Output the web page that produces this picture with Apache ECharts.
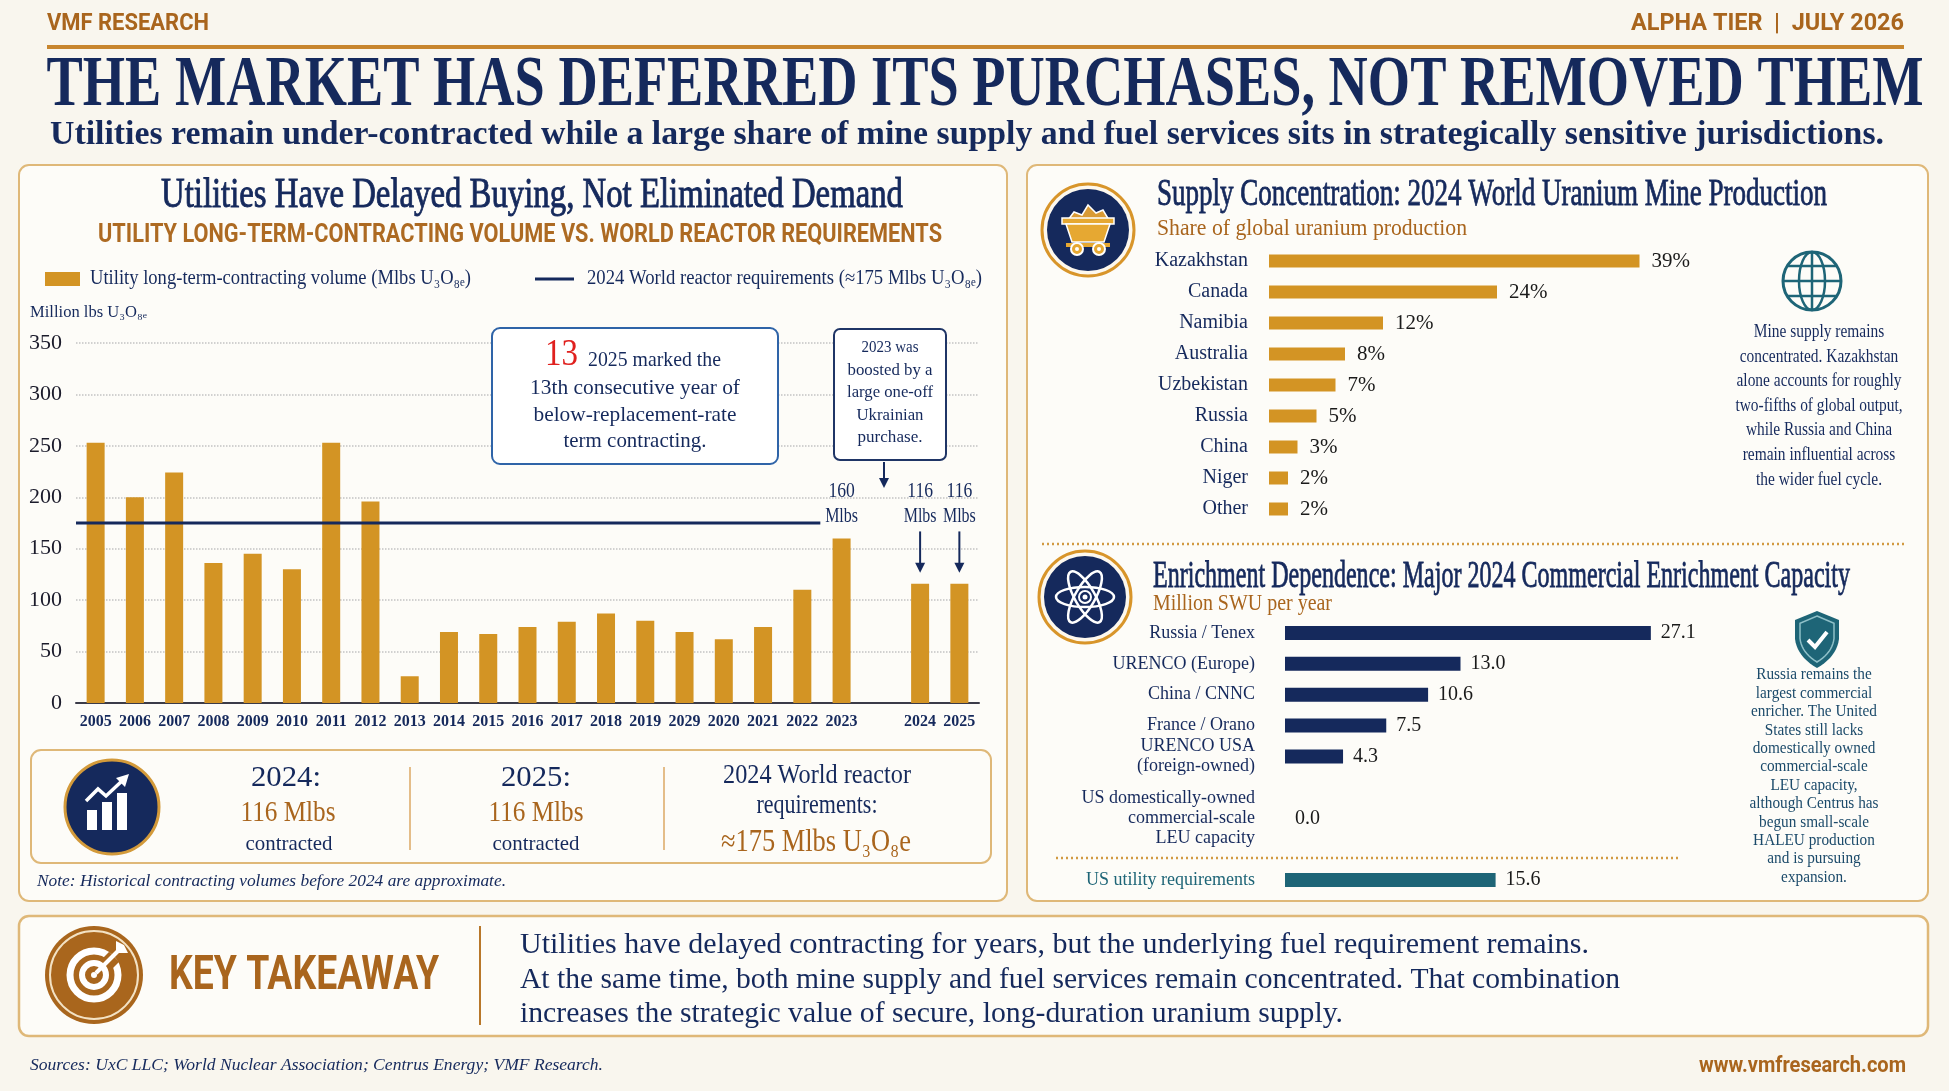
<!DOCTYPE html>
<html><head><meta charset="utf-8">
<script src="https://cdn.jsdelivr.net/npm/echarts@6/dist/echarts.min.js"></script>
<style>html,body{margin:0;padding:0;background:#f9f6ee;}#c{width:1949px;height:1091px;}</style>
</head><body><div id="c"></div><script>
// ---------- DATA ----------
const years = ['2005','2006','2007','2008','2009','2010','2011','2012','2013','2014','2015','2016','2017','2018','2019','2029','2020','2021','2022','2023','','2024','2025'];
const contractVolume = [253,200,224,136,145,130,253,196,26,69,67,74,79,87,80,69,62,74,110,160,null,116,116];
const reactorRequirement = 175;
const yAxisMin = 0, yAxisMax = 350, yAxisStep = 50;
const calloutYears = ['2023','2024','2025'];
const calloutValues = ['160','116','116'];

const countries = ['Kazakhstan','Canada','Namibia','Australia','Uzbekistan','Russia','China','Niger','Other'];
const mineShare = [39,24,12,8,7,5,3,2,2];

const enrichers = ['Russia / Tenex','URENCO (Europe)','China / CNNC','France / Orano','URENCO USA\n(foreign-owned)','','US domestically-owned\ncommercial-scale\nLEU capacity','','US utility requirements'];
const enrichCapacity = [27.1,13.0,10.6,7.5,4.3,null,0.0,null,15.6];
const requirementRow = 'US utility requirements';

// ---------- STYLE ----------
const NAVY = '#15295c', GOLD = '#d39424', ORANGE = '#a9651d', TEAL = '#1e6577', BORDER = '#dfb878', PANEL = '#fdfcf8';
const SERIF = '"Liberation Serif","Times New Roman",serif';
const SANS = 'Roboto,"Liberation Sans",sans-serif';

const mctx = document.createElement('canvas').getContext('2d');
function T(text, x, y, o) {
  o = Object.assign({size:16, color:NAVY, align:'left', weight:'normal', style:'normal', family:SERIF}, o || {});
  const font = `${o.style} ${o.weight} ${o.size}px ${o.family}`;
  let sx = o.sx || 1;
  if (o.w) { mctx.font = font; sx = o.w / mctx.measureText(text).width; }
  const st = {text:text, fill:o.color, font:font, textAlign:o.align, textVerticalAlign:'middle', align:o.align, verticalAlign:'middle'};
  if (o.stroke) { st.stroke = o.color; st.lineWidth = o.stroke; }
  return {type:'text', x:x, y:y, scaleX:sx, scaleY:1, z:o.z || 100, silent:true, style:st};
}
function scaleFor(text, size, w, weight, family) {
  mctx.font = `normal ${weight||'normal'} ${size}px ${family||SERIF}`;
  return w / mctx.measureText(text).width;
}
function rect(x,y,w,h,o){ o=o||{}; return {type:'rect', shape:{x:x,y:y,width:w,height:h,r:o.r||0}, style:{fill:o.fill||'none', stroke:o.stroke||null, lineWidth:o.lw||0}, z:o.z!=null?o.z:100, silent:true}; }
function line(x1,y1,x2,y2,color,lw,dash,z){ return {type:'line', shape:{x1:x1,y1:y1,x2:x2,y2:y2}, style:{stroke:color, lineWidth:lw, lineDash:dash||null}, z:z||100, silent:true}; }
function circ(cx,cy,r,fill,stroke,lw,z){ return {type:'circle', shape:{cx:cx,cy:cy,r:r}, style:{fill:fill||'none', stroke:stroke||null, lineWidth:lw||0}, z:z||100, silent:true}; }
function poly(points, fill, stroke, lw, z){ return {type:'polygon', shape:{points:points}, style:{fill:fill||'none', stroke:stroke||null, lineWidth:lw||0}, z:z||100, silent:true}; }
function arrowDown(x, y1, y2, color, lw){
  return [line(x,y1,x,y2-8,color,lw), poly([[x-5,y2-10],[x+5,y2-10],[x,y2]], color)];
}
function quad(p0, c, p1, n){ const out=[]; for(let i=1;i<=n;i++){ const t=i/n, a=(1-t)*(1-t), b=2*(1-t)*t, d=t*t; out.push([a*p0[0]+b*c[0]+d*p1[0], a*p0[1]+b*c[1]+d*p1[1]]); } return out; }
function shieldPts(cx, t, hw, h){
  const pts = [[cx, t],[cx+hw, t+h*0.16],[cx+hw, t+h*0.49]];
  pts.push(...quad([cx+hw, t+h*0.49],[cx+hw*0.9, t+h*0.8],[cx, t+h], 10));
  pts.push(...quad([cx, t+h],[cx-hw*0.9, t+h*0.8],[cx-hw, t+h*0.49], 10));
  pts.push([cx-hw, t+h*0.16]);
  return pts;
}

// ---------- CHART ----------
const chart = echarts.init(document.getElementById('c'));
const G0 = {left:76, top:343, width:903, height:360};
const option = {
  backgroundColor: '#f9f6ee',
  animation: false,
  grid: [
    G0,
    {left:1269, top:245.5, width:475, height:279},
    {left:1285, top:617.5, width:405, height:278}
  ],
  xAxis: [
    {gridIndex:0, type:'category', data:years, axisLine:{lineStyle:{color:'#3b3b48', width:2}}, axisTick:{show:false},
     axisLabel:{interval:0, margin:11, fontFamily:SERIF, fontSize:16, fontWeight:'bold', color:NAVY}},
    {gridIndex:1, type:'value', min:0, max:50, show:false},
    {gridIndex:2, type:'value', min:0, max:30, show:false}
  ],
  yAxis: [
    {gridIndex:0, type:'value', min:yAxisMin, max:yAxisMax, interval:yAxisStep, axisLine:{show:false}, axisTick:{show:false},
     axisLabel:{margin:14, fontFamily:SERIF, fontSize:22, color:'#1b1b2b'},
     splitLine:{lineStyle:{type:'dotted', color:'#c2c2c2', width:1.5}}},
    {gridIndex:1, type:'category', data:countries, inverse:true, axisLine:{show:false}, axisTick:{show:false},
     axisLabel:{margin:21, fontFamily:SERIF, fontSize:20, color:NAVY}},
    {gridIndex:2, type:'category', inverse:true, axisLine:{show:false}, axisTick:{show:false},
     data: enrichers.map(n => n === requirementRow ? {value:n, textStyle:{color:TEAL}} : n),
     axisLabel:{margin:30, fontFamily:SERIF, fontSize:18, lineHeight:20, color:NAVY}}
  ],
  series: [
    {type:'bar', xAxisIndex:0, yAxisIndex:0, data:contractVolume, barWidth:18, itemStyle:{color:GOLD}},
    {type:'bar', xAxisIndex:1, yAxisIndex:1, data:mineShare, barWidth:13, itemStyle:{color:GOLD},
     label:{show:true, position:'right', distance:12, formatter:p => p.value + '%', fontFamily:SERIF, fontSize:21, color:'#1a1a1a'}},
    {type:'bar', xAxisIndex:2, yAxisIndex:2, barWidth:14,
     data: enrichCapacity.map((v,i) => v == null ? null : {value:v, itemStyle:{color: enrichers[i] === requirementRow ? TEAL : NAVY}}),
     label:{show:true, position:'right', distance:10, formatter:p => p.value == null ? '' : Number(p.value).toFixed(1), fontFamily:SERIF, fontSize:20, color:'#1a1a1a'}}
  ]
};
chart.setOption(option);

// ---------- GRAPHICS ----------
const g = [];
// panels
g.push(rect(19,165,988,736,{r:10, fill:PANEL, stroke:BORDER, lw:2, z:-10}));
g.push(rect(1027,165,901,736,{r:10, fill:PANEL, stroke:BORDER, lw:2, z:-10}));
g.push(rect(19,916,1909,120,{r:10, fill:PANEL, stroke:BORDER, lw:2.5, z:-10}));
g.push(rect(31,750,960,113,{r:10, fill:PANEL, stroke:BORDER, lw:2, z:-5}));

// header
g.push(T('VMF RESEARCH', 47, 24, {family:SANS, weight:'bold', size:23, color:ORANGE, w:162}));
g.push(T('ALPHA TIER  |  JULY 2026', 1904, 24, {family:SANS, weight:'bold', size:23, color:ORANGE, align:'right', w:273}));
g.push(rect(47,45,1857,4,{fill:'#c8862e'}));
g.push(T('THE MARKET HAS DEFERRED ITS PURCHASES, NOT REMOVED THEM', 985, 86, {size:72, weight:'bold', align:'center', w:1877}));
g.push(T('Utilities remain under-contracted while a large share of mine supply and fuel services sits in strategically sensitive jurisdictions.', 967, 135, {size:33, weight:'bold', align:'center', w:1834}));

// left panel headings + legend
g.push(T('Utilities Have Delayed Buying, Not Eliminated Demand', 532, 196, {size:42, align:'center', w:742, stroke:0.9}));
g.push(T('UTILITY LONG-TERM-CONTRACTING VOLUME VS. WORLD REACTOR REQUIREMENTS', 520, 236, {family:SANS, weight:'bold', size:25, color:'#ad6a22', align:'center', w:844}));
g.push(rect(45,272,35,14,{fill:GOLD}));
g.push(T('Utility long-term-contracting volume (Mlbs U\u2083O\u2088\u2091)', 90, 279, {size:20, w:381}));
g.push(line(535,279,574,279,NAVY,3));
g.push(T('2024 World reactor requirements (\u2248175 Mlbs U\u2083O\u2088\u2091)', 587, 279, {size:20, w:395}));
g.push(T('Million lbs U\u2083O\u2088\u2091', 30, 313, {size:17, w:117}));

// requirement line through the library's scales
const px = (cat, val) => chart.convertToPixel({xAxisIndex:0, yAxisIndex:0}, [cat, val]);
const reqY = px('2005', reactorRequirement)[1];
const reqEndX = px('2022', reactorRequirement)[0] + 18;
g.push(line(G0.left, reqY, reqEndX, reqY, NAVY, 3, null, 50));

// callout box 1
g.push(rect(492,328,286,136,{r:8, fill:'#ffffff', stroke:'#2f64a8', lw:2}));
g.push(T('13', 545, 355, {size:38, color:'#e0201e', w:33}));
g.push(T('2025 marked the', 588, 360, {size:22, w:133}));
g.push(T('13th consecutive year of', 635, 388, {size:22, align:'center', w:210}));
g.push(T('below-replacement-rate', 635, 415, {size:22, align:'center', w:203}));
g.push(T('term contracting.', 635, 441, {size:22, align:'center', w:143}));

// callout box 2
g.push(rect(834,329,112,131,{r:6, fill:'#ffffff', stroke:'#1f3566', lw:2}));
[['2023 was',57],['boosted by a',85],['large one-off',86],['Ukrainian',67],['purchase.',65]].forEach((l,i) => {
  g.push(T(l[0], 890, 348 + i*22.5, {size:17, align:'center', w:l[1]}));
});
g.push(...arrowDown(884, 462, 488, NAVY, 2));

// bar callout labels
const topY = px(calloutYears[0], Number(calloutValues[0]))[1];
calloutYears.forEach((yr, i) => {
  const x = px(yr, 0)[0];
  g.push(T(calloutValues[i], x, topY - 47, {size:20, sx:0.88, align:'center'}));
  g.push(T('Mlbs', x, topY - 22, {size:20, sx:0.8, align:'center'}));
  if (i > 0) {
    const barTop = px(yr, Number(calloutValues[i]))[1];
    g.push(...arrowDown(x, topY - 7, barTop - 11, NAVY, 2));
  }
});

// stats box
(function(){
  const cx=112, cy=807;
  g.push(circ(cx,cy,47,NAVY,'#d39a3a',3));
  g.push(rect(cx-25,cy+3,10,20,{fill:'#fff'}));
  g.push(rect(cx-10,cy-5,10,28,{fill:'#fff'}));
  g.push(rect(cx+5,cy-14,10,37,{fill:'#fff'}));
  g.push({type:'polyline', shape:{points:[[cx-26,cy-6],[cx-14,cy-18],[cx-6,cy-11],[cx+11,cy-27]]}, style:{stroke:'#fff', lineWidth:3.5, fill:null}, z:101, silent:true});
  g.push(poly([[cx+17,cy-33],[cx+4,cy-29],[cx+13,cy-20]], '#fff'));
})();
g.push(T('2024:', 286, 778, {size:30, align:'center', w:70}));
g.push(T('116 Mlbs', 288, 813, {size:30, color:ORANGE, align:'center', w:95}));
g.push(T('contracted', 289, 844, {size:21, align:'center', w:87}));
g.push(line(410,767,410,850,'#dba865',1.5));
g.push(T('2025:', 536, 778, {size:30, align:'center', w:70}));
g.push(T('116 Mlbs', 536, 813, {size:30, color:ORANGE, align:'center', w:95}));
g.push(T('contracted', 536, 844, {size:21, align:'center', w:87}));
g.push(line(664,767,664,850,'#dba865',1.5));
g.push(T('2024 World reactor', 817, 776, {size:28, align:'center', w:188}));
g.push(T('requirements:', 817, 806, {size:28, align:'center', w:121}));
g.push(T('\u2248175 Mlbs U\u2083O\u2088e', 816, 843, {size:31, color:ORANGE, align:'center', w:190}));
g.push(T('Note: Historical contracting volumes before 2024 are approximate.', 37, 882, {size:17, style:'italic', w:469}));

// right panel – supply
(function(){
  const cx=1088, cy=230, c='#e6a832';
  g.push(circ(cx,cy,46,'#fdf8ee','#d8952a',3));
  g.push(circ(cx,cy,41,NAVY));
  g.push(poly([[cx-20,cy-10],[cx-14,cy-18],[cx-6,cy-15],[cx,cy-25],[cx+8,cy-17],[cx+15,cy-20],[cx+21,cy-10]], '#d99a35','#fff',1.5));
  g.push(rect(cx-26,cy-12,52,6,{fill:c, stroke:'#fff', lw:1.5}));
  g.push(poly([[cx-22,cy-6],[cx+22,cy-6],[cx+16,cy+12],[cx-16,cy+12]], c,'#fff',1.5));
  g.push(rect(cx-22,cy+13,44,4,{fill:c}));
  g.push(circ(cx-11,cy+19,6,c,'#fff',2)); g.push(circ(cx+11,cy+19,6,c,'#fff',2));
  g.push(circ(cx-11,cy+19,2,'#fff')); g.push(circ(cx+11,cy+19,2,'#fff'));
})();
g.push(T('Supply Concentration: 2024 World Uranium Mine Production', 1157, 195, {size:37, w:670, stroke:0.8}));
g.push(T('Share of global uranium production', 1157, 229, {size:23, color:ORANGE, w:310}));
(function(){
  const cx=1812, cy=281, r=29;
  g.push(circ(cx,cy,r,'none',TEAL,3));
  g.push({type:'ellipse', shape:{cx:cx,cy:cy,rx:13,ry:r}, style:{fill:'none', stroke:TEAL, lineWidth:2.5}, z:100, silent:true});
  g.push(line(cx,cy-r,cx,cy+r,TEAL,2.5));
  g.push(line(cx-r,cy,cx+r,cy,TEAL,2.5));
  g.push(line(cx-24.8,cy-15,cx+24.8,cy-15,TEAL,2.5));
  g.push(line(cx-24.8,cy+15,cx+24.8,cy+15,TEAL,2.5));
})();
(function(){
  const lines = ['Mine supply remains','concentrated. Kazakhstan','alone accounts for roughly','two-fifths of global output,','while Russia and China','remain influential across','the wider fuel cycle.'];
  const sx = scaleFor('alone accounts for roughly', 19, 165);
  lines.forEach((l,i) => g.push(T(l, 1819, 332 + i*24.6, {size:19, align:'center', sx:sx})));
})();
g.push(line(1042,544,1907,544,'#d29a42',2.5,[2,3]));

// right panel – enrichment
(function(){
  const cx=1085, cy=597;
  g.push(circ(cx,cy,46,'#fdf8ee','#d8952a',3));
  g.push(circ(cx,cy,41,NAVY));
  [0, Math.PI/3, -Math.PI/3].forEach(a => g.push({type:'ellipse', x:cx, y:cy, rotation:a, shape:{cx:0,cy:0,rx:29,ry:10}, style:{fill:'none', stroke:'#fff', lineWidth:2.5}, z:101, silent:true}));
  g.push(circ(cx,cy,6,'none','#fff',2));
  g.push(circ(cx,cy,2.5,'#fff'));
})();
g.push(T('Enrichment Dependence: Major 2024 Commercial Enrichment Capacity', 1153, 577, {size:37, w:697, stroke:0.8}));
g.push(T('Million SWU per year', 1153, 604, {size:23, color:ORANGE, w:179}));
(function(){
  const cx=1817, t=611;
  g.push(poly(shieldPts(cx, t, 22, 57), TEAL));
  g.push(poly(shieldPts(cx, t+5, 17, 46), 'none', '#8fc0c8', 1.5, 101));
  g.push({type:'polyline', shape:{points:[[cx-9,t+29],[cx-2,t+36],[cx+10,t+21]]}, style:{stroke:'#fff', lineWidth:4, fill:null}, z:102, silent:true});
})();
(function(){
  const lines = ['Russia remains the','largest commercial','enricher. The United','States still lacks','domestically owned','commercial-scale','LEU capacity,','although Centrus has','begun small-scale','HALEU production','and is pursuing','expansion.'];
  const sx = scaleFor('although Centrus has', 17, 129);
  lines.forEach((l,i) => g.push(T(l, 1814, 675 + i*18.4, {size:17, align:'center', color:'#1b4a6a', sx:sx})));
})();
g.push(line(1056,858,1678,858,'#d29a42',2.5,[2,3]));

// key takeaway
(function(){
  const cx=94, cy=975, B='#a9661d';
  g.push(circ(cx,cy,49,B));
  g.push(circ(cx,cy,44,'none','#f3e2c4',2));
  g.push(circ(cx,cy,24,'none','#fff',7));
  g.push(line(cx+12,cy-20,cx+22,cy-10,B,9));
  g.push(circ(cx,cy,12,'none','#fff',6));
  g.push(circ(cx,cy,3,'#fff'));
  g.push(line(cx+2,cy-2,cx+24,cy-24,'#fff',4));
  g.push(poly([[cx+22,cy-22],[cx+22,cy-34],[cx+30,cy-30],[cx+34,cy-22]], '#fff'));
})();
g.push(T('KEY TAKEAWAY', 169, 977, {family:SANS, weight:'bold', size:48, color:ORANGE, w:270}));
g.push(line(480,926,480,1025,'#b8772a',2));
g.push(T('Utilities have delayed contracting for years, but the underlying fuel requirement remains.', 520, 945, {size:29, w:1069}));
g.push(T('At the same time, both mine supply and fuel services remain concentrated. That combination', 520, 980, {size:29, w:1100}));
g.push(T('increases the strategic value of secure, long-duration uranium supply.', 520, 1014, {size:29, w:823}));

// footer
g.push(T('Sources: UxC LLC; World Nuclear Association; Centrus Energy; VMF Research.', 30, 1066, {size:17, style:'italic', w:573}));
g.push(T('www.vmfresearch.com', 1906, 1066, {family:SANS, weight:'bold', size:22, color:ORANGE, align:'right', w:207}));

chart.setOption({graphic: {elements: g}});
</script></body></html>
